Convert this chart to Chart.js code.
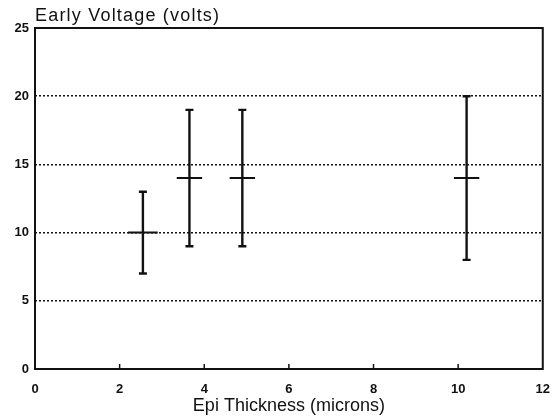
<!DOCTYPE html>
<html>
<head>
<meta charset="utf-8">
<script src="https://cdn.jsdelivr.net/npm/chart.js@4/dist/chart.umd.min.js"></script>
<style>
	html, body { margin: 0; padding: 0; background: #fff; }
	#wrap { width: 555px; height: 417px; }
</style>
</head>
<body>
<div id="wrap"><canvas id="evChart"></canvas></div>
<script>
// epi thickness (microns) and early voltage (volts)
const epiThickness = [2.55, 3.65, 4.9, 10.2];
const voltMean = [10, 14, 14, 14];
const voltLow = [7, 9, 9, 8];
const voltHigh = [13, 19, 19, 20];
const thicknessErr = [0.35, 0.3, 0.3, 0.3];

const xTicks = [0, 2, 4, 6, 8, 10, 12];
const yTicks = [0, 5, 10, 15, 20, 25];

const ink = '#111';
const fontFamily = 'Liberation Sans, Arial, sans-serif';
const tickFont = { family: fontFamily, size: 13, weight: 'bold' };

const datasets = [];
epiThickness.forEach((x, i) => {
	// vertical range with caps
	datasets.push({
		data: [{ x, y: voltLow[i] }, { x, y: voltHigh[i] }],
		showLine: true,
		borderColor: ink,
		borderWidth: 2.4,
		pointStyle: 'line',
		pointRadius: 4,
		pointBorderWidth: 2.4,
		pointBorderColor: ink,
	});
	// horizontal mean bar
	datasets.push({
		data: [
			{ x: x - thicknessErr[i], y: voltMean[i] },
			{ x: x + thicknessErr[i], y: voltMean[i] },
		],
		showLine: true,
		borderColor: ink,
		borderWidth: 2,
		pointRadius: 0,
	});
});

const framePlugin = {
	id: 'frame',
	afterDraw(chart) {
		const { ctx, chartArea: a, scales } = chart;
		ctx.save();
		ctx.strokeStyle = ink;
		ctx.lineWidth = 2;
		ctx.strokeRect(a.left, a.top, a.right - a.left, a.bottom - a.top);
		// small inward ticks on the bottom axis
		ctx.lineWidth = 1.5;
		xTicks.slice(1, -1).forEach((v) => {
			const px = scales.x.getPixelForValue(v);
			ctx.beginPath();
			ctx.moveTo(px, a.bottom);
			ctx.lineTo(px, a.bottom - 5);
			ctx.stroke();
		});
		// y title sits horizontally above the plot
		ctx.fillStyle = ink;
		ctx.font = '18px ' + fontFamily;
		ctx.letterSpacing = '1.2px';
		ctx.textBaseline = 'alphabetic';
		ctx.textAlign = 'left';
		ctx.fillText('Early Voltage (volts)', a.left, a.top - 7);
		ctx.restore();
	},
};

new Chart(document.getElementById('evChart').getContext('2d'), {
	type: 'scatter',
	data: { datasets },
	options: {
		responsive: true,
		maintainAspectRatio: false,
		animation: false,
		layout: { padding: { top: 28, right: 8, bottom: 0, left: 0 } },
		plugins: {
			legend: { display: false },
			tooltip: { enabled: false },
		},
		scales: {
			x: {
				type: 'linear',
				min: 0,
				max: 12,
				afterBuildTicks: (s) => { s.ticks = xTicks.map((v) => ({ value: v })); },
				afterFit: (s) => { s.height = 48; },
				grid: { display: false },
				border: { display: false },
				ticks: { color: ink, font: tickFont, padding: 5, maxRotation: 0 },
				title: {
					display: true,
					text: 'Epi Thickness (microns)',
					color: ink,
					font: { family: fontFamily, size: 18 },
					padding: { top: 0, bottom: 0 },
				},
			},
			y: {
				type: 'linear',
				min: 0,
				max: 25,
				afterBuildTicks: (s) => { s.ticks = yTicks.map((v) => ({ value: v })); },
				afterFit: (s) => { s.width = 35; },
				border: { display: false, dash: [2, 2] },
				grid: {
					color: (c) => (c.tick.value === 0 || c.tick.value === 25 ? 'rgba(0,0,0,0)' : ink),
					lineWidth: 1.5,
					drawTicks: false,
				},
				ticks: { color: ink, font: tickFont, padding: 6 },
			},
		},
	},
	plugins: [framePlugin],
});
</script>
</body>
</html>
